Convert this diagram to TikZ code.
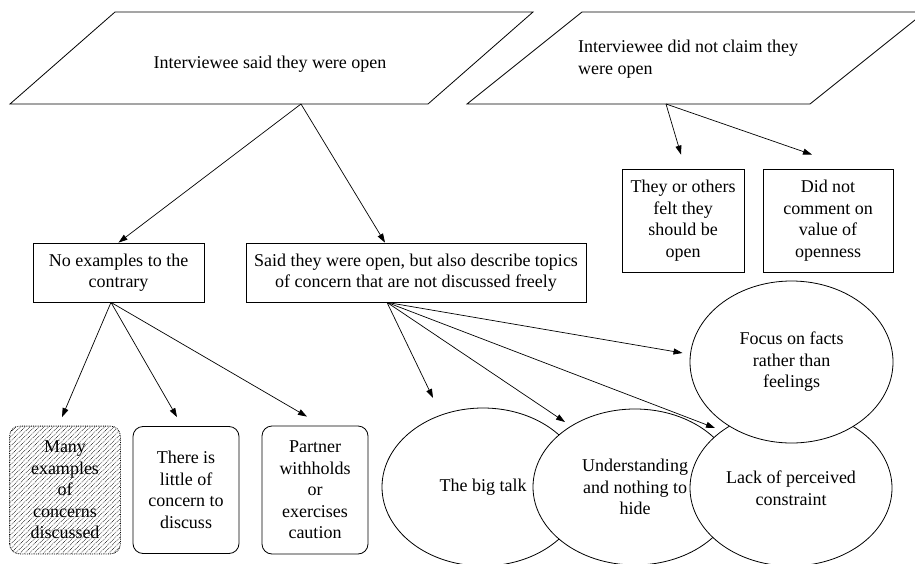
\documentclass[tikz,border=0pt]{standalone}
\usepackage{fontspec}
\setmainfont{Liberation Serif}
\usetikzlibrary{shapes.geometric,arrows.meta,patterns.meta}
\begin{document}
\begin{tikzpicture}[x=1pt,y=-1pt,
  every node/.style={font=\fontsize{18}{21.5}\selectfont, align=center, inner sep=0pt},
  shp/.style={line width=0.8pt},
  box/.style={draw, line width=0.8pt},
  rbox/.style={draw, line width=0.8pt, rounded corners=10pt, minimum width=106pt, minimum height=127pt},
  ell/.style={draw, ellipse, line width=0.8pt, fill=white, minimum width=202pt, minimum height=158pt},
  arr/.style={line width=0.7pt, -{Triangle[length=9pt,width=6pt]}}
]
\useasboundingbox (0,0) rectangle (915,564);

% parallelograms
\draw[shp] (10,104) -- (428,104) -- (533,12) -- (115,12) -- cycle;
\node (p1) at (270,64) {Interviewee said they were open};
\coordinate (p1out) at (301,104);

\draw[shp] (467,104) -- (810,104) -- (925,12) -- (582,12) -- cycle;
\node[anchor=west, align=left] (p2) at (578,59) {Interviewee did not claim they\\were open};
\coordinate (p2out) at (666,104);

% boxes
\node[box, minimum width=171pt, minimum height=59pt] (noex) at (118.5,272.5) {No examples to the\\contrary};
\node[box, minimum width=340pt, minimum height=59pt] (said) at (416,272.5) {Said they were open, but also describe topics\\of concern that are not discussed freely};
\node[box, minimum width=122pt, minimum height=103pt] (they) at (683,220.5) {They or others\\felt they\\should be\\open};
\node[box, minimum width=130pt, minimum height=103pt] (didnot) at (828,220.5) {Did not\\comment on\\value of\\openness};

% rounded boxes
\node[rbox, draw=none, minimum width=110pt] (many) at (65,490) {Many\\examples\\of\\concerns\\discussed};
\draw[line width=0.8pt, densely dotted, rounded corners=10pt,
  pattern={Lines[angle=45,distance=3.3pt,line width=0.5pt]}] (many.south west) rectangle (many.north east);
\node[rbox] (little) at (186,490) {There is\\little of\\concern to\\discuss};
\node[rbox, minimum height=128pt] (partner) at (315,490) {Partner\\withholds\\or\\exercises\\caution};

% ellipses
\node[ell] (bigtalk) at (483,487) {The big talk};
\node[ell, minimum width=204pt, minimum height=156pt] (underst) at (635,487) {Understanding\\and nothing to\\hide};
\node[ell, minimum height=156pt] (lack) at (791,488) {Lack of perceived\\constraint};
\node[ell, minimum width=203pt, minimum height=162pt] (focus) at (791.5,362) {Focus on facts\\rather than\\feelings};

% connectors
\draw[arr] (p1out) -- (noex.north);
\draw[arr] (p1out) -- ([shift={(-31,0)}]said.north);
\draw[arr] (p2out) -- ([shift={(-2,-14)}]they.north);
\draw[arr] (p2out) -- ([shift={(-16,-14)}]didnot.north);

\draw[arr] ([shift={(-7.5,0)}]noex.south) -- ([shift={(-3,-9)}]many.north);
\draw[arr] ([shift={(-7.5,0)}]noex.south) -- ([shift={(-9,-9)}]little.north);
\draw[arr] ([shift={(-7.5,0)}]noex.south) -- ([shift={(-8,-9)}]partner.north);

\draw[arr] ([shift={(-29,0)}]said.south) -- ([shift={(-50,-89)}]bigtalk.center);
\draw[arr] ([shift={(-29,0)}]said.south) -- ([shift={(-70,-65)}]underst.center);
\draw[arr] ([shift={(-29,0)}]said.south) -- ([shift={(-76,-60)}]lack.center);
\draw[arr] ([shift={(-29,0)}]said.south) -- ([shift={(-109,-9)}]focus.center);
\end{tikzpicture}
\end{document}
